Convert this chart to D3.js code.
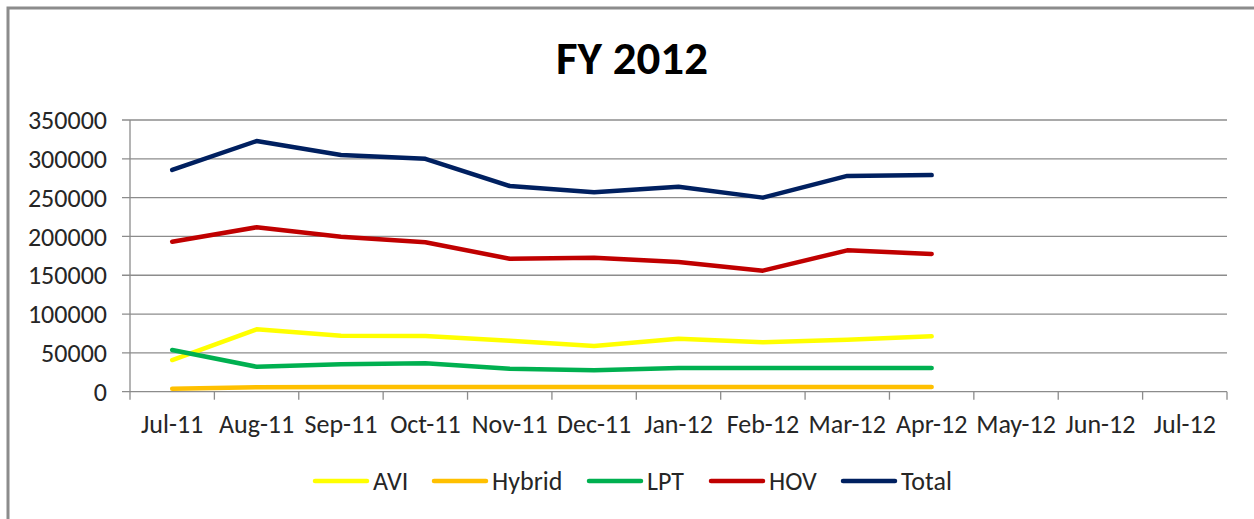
<!DOCTYPE html>
<html>
<head>
<meta charset="utf-8">
<script src="https://cdn.jsdelivr.net/npm/d3@7"></script>
<style>
  body { margin: 0; background: #fff; }
  svg { display: block; }
</style>
</head>
<body>
<div id="chart"></div>
<script>
// categories on the x axis (the last three have no data yet)
const months = ["Jul-11", "Aug-11", "Sep-11", "Oct-11", "Nov-11", "Dec-11", "Jan-12", "Feb-12", "Mar-12", "Apr-12", "May-12", "Jun-12", "Jul-12"];
const yTicks = [0, 50000, 100000, 150000, 200000, 250000, 300000, 350000];

const avi = [40800, 80300, 72100, 71700, 65700, 58800, 68300, 63600, 67000, 71300];
const hybrid = [3900, 5800, 6000, 6000, 6000, 6000, 6000, 6000, 6000, 6000];
const lpt = [53700, 32200, 35300, 36600, 29600, 27600, 30500, 30500, 30500, 30500];
const hov = [193200, 211800, 199700, 192500, 171300, 172600, 167000, 155900, 182100, 177400];
const total = [285600, 322900, 305000, 300000, 265000, 257000, 264000, 250000, 278000, 279000];

const seriesNames = ["AVI", "Hybrid", "LPT", "HOV", "Total"];
const seriesColors = ["#FFFF00", "#FFC000", "#00B050", "#C00000", "#002060"];
const seriesValues = [avi, hybrid, lpt, hov, total];

const width = 1254, height = 519;
const plot = { left: 130, right: 1227, top: 120, bottom: 391.7 };
const font = "Carlito, Calibri, 'Liberation Sans Narrow', 'Open Sans', sans-serif";

const svg = d3.select("#chart").append("svg")
  .attr("width", width)
  .attr("height", height)
  .attr("font-family", font);

// outer chart frame (only top and left edges are in view)
svg.append("path")
  .attr("d", `M8,${height} V8 H${width}`)
  .attr("fill", "none")
  .attr("stroke", "#8c8c8c")
  .attr("stroke-width", 3);

svg.append("text")
  .attr("x", 632)
  .attr("y", 74)
  .attr("text-anchor", "middle")
  .attr("font-size", 47)
  .attr("font-weight", "bold")
  .attr("fill", "#000")
  .text("FY 2012");

const x = d3.scaleBand().domain(months).range([plot.left, plot.right]);
const y = d3.scaleLinear().domain([0, 350000]).range([plot.bottom, plot.top]);

// horizontal gridlines
svg.append("g")
  .selectAll("line")
  .data(yTicks)
  .join("line")
  .attr("x1", plot.left - 8)
  .attr("x2", plot.right)
  .attr("y1", d => y(d))
  .attr("y2", d => y(d))
  .attr("stroke", "#8c8c8c")
  .attr("stroke-width", 1.3);

// y axis line
svg.append("line")
  .attr("x1", plot.left).attr("x2", plot.left)
  .attr("y1", plot.top).attr("y2", plot.bottom)
  .attr("stroke", "#8c8c8c")
  .attr("stroke-width", 1.3);

svg.append("g")
  .selectAll("text")
  .data(yTicks)
  .join("text")
  .attr("x", 107)
  .attr("y", d => y(d))
  .attr("dy", "0.35em")
  .attr("text-anchor", "end")
  .attr("font-size", 26)
  .attr("fill", "#262626")
  .text(d => d);

// x tick marks at band edges
const edges = months.map(m => x(m)).concat([plot.right]);
svg.append("g")
  .selectAll("line")
  .data(edges)
  .join("line")
  .attr("x1", d => d).attr("x2", d => d)
  .attr("y1", plot.bottom).attr("y2", plot.bottom + 8)
  .attr("stroke", "#8c8c8c")
  .attr("stroke-width", 1.3);

svg.append("g")
  .selectAll("text")
  .data(months)
  .join("text")
  .attr("x", d => x(d) + x.bandwidth() / 2)
  .attr("y", 433)
  .attr("text-anchor", "middle")
  .attr("font-size", 26)
  .attr("fill", "#262626")
  .text(d => d);

const line = d3.line()
  .x((d, i) => x(months[i]) + x.bandwidth() / 2)
  .y(d => y(d));

seriesValues.forEach((vals, k) => {
  svg.append("path")
    .datum(vals)
    .attr("d", line)
    .attr("fill", "none")
    .attr("stroke", seriesColors[k])
    .attr("stroke-width", 4.5)
    .attr("stroke-linecap", "round")
    .attr("stroke-linejoin", "round");
});

// legend
const legendX = [315, 434, 589, 711, 843];
const legendY = 481;
const lg = svg.append("g");
seriesNames.forEach((name, k) => {
  lg.append("line")
    .attr("x1", legendX[k]).attr("x2", legendX[k] + 52)
    .attr("y1", legendY).attr("y2", legendY)
    .attr("stroke", seriesColors[k])
    .attr("stroke-width", 4.5)
    .attr("stroke-linecap", "round");
  lg.append("text")
    .attr("x", legendX[k] + 58)
    .attr("y", legendY)
    .attr("dy", "0.35em")
    .attr("font-size", 26)
    .attr("fill", "#262626")
    .text(name);
});
</script>
</body>
</html>
